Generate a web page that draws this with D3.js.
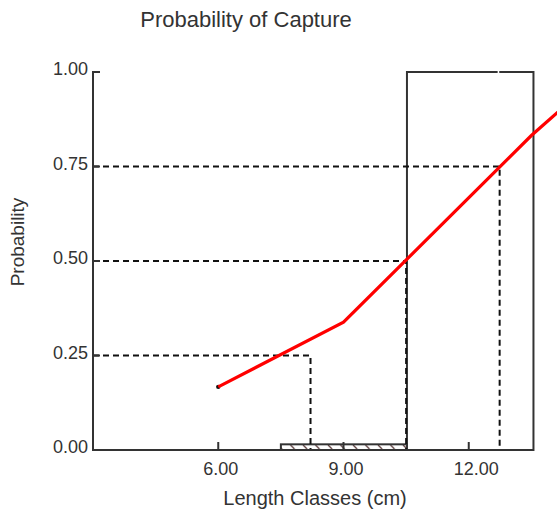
<!DOCTYPE html>
<html>
<head>
<meta charset="utf-8">
<script src="https://cdn.jsdelivr.net/npm/d3@7/dist/d3.min.js"></script>
<style>
  html, body { margin: 0; padding: 0; background: #fff; }
  svg { display: block; }
  text { font-family: "Liberation Sans", Arial, sans-serif; fill: #333; }
</style>
</head>
<body>
<script>
// Selection curve: length class (cm) vs probability of capture
const curveLengths = [6, 9, 13.5, 15];
const curveProbs = [0.167, 0.338, 0.832, 0.978];

// Length-frequency bars: class start, class end, relative height
const barStarts = [7.5, 10.52];
const barEnds = [10.52, 13.55];
const barHeights = [0.015, 1.0];
const barHatched = [true, false];

// Reference probabilities and the lengths where their guide lines drop
const refProbs = [0.25, 0.5, 0.75];
const refLengths = [8.21, 10.5, 12.74];

// Axis ticks
const xTicks = [6, 9, 12];
const xTickLabels = ["6.00", "9.00", "12.00"];
const yTicks = [0, 0.25, 0.5, 0.75, 1.0];
const yTickLabels = ["0.00", "0.25", "0.50", "0.75", "1.00"];

const W = 557, H = 515;
const svg = d3.select("body").append("svg").attr("width", W).attr("height", H);

const x = d3.scaleLinear().domain([3, 13.4]).range([93, 527.2]);
const y = d3.scaleLinear().domain([0, 1]).range([450, 72]);

// hatch pattern for the small bar
const defs = svg.append("defs");
const pat = defs.append("pattern")
  .attr("id", "hatch").attr("patternUnits", "userSpaceOnUse")
  .attr("width", 12.5).attr("height", 6);
pat.append("line").attr("x1", 3).attr("y1", 1).attr("x2", 7).attr("y2", 5)
  .attr("stroke", "#5a3a3a").attr("stroke-width", 1.2);

const ink = "#333";

// Bars
const bars = barStarts.map((s, i) => ({ s, e: barEnds[i], h: barHeights[i], hatched: barHatched[i] }));
svg.append("g").selectAll("rect").data(bars).join("rect")
  .attr("x", d => x(d.s))
  .attr("y", d => y(d.h))
  .attr("width", d => x(d.e) - x(d.s))
  .attr("height", d => y(0) - y(d.h))
  .attr("fill", d => d.hatched ? "url(#hatch)" : "none")
  .attr("stroke", ink).attr("stroke-width", 2);

// small break in the top edge of the full-height bar at the L75 length
svg.append("rect")
  .attr("x", x(refLengths[2]) - 2).attr("y", y(1) - 2)
  .attr("width", 1.6).attr("height", 4).attr("fill", "#fff");

// Reference guide lines (dashed)
const guides = svg.append("g").attr("fill", "none")
  .attr("stroke", "#111").attr("stroke-width", 2).attr("stroke-dasharray", "6,4");
refProbs.forEach((p, i) => {
  guides.append("path")
    .attr("d", d3.line()([[x(3), y(p)], [x(refLengths[i]), y(p)], [x(refLengths[i]), y(0)]]));
});

// Axes
const axes = svg.append("g").attr("fill", "none").attr("stroke", ink).attr("stroke-width", 2);
axes.append("line").attr("x1", x(3)).attr("x2", x(3)).attr("y1", y(0)).attr("y2", y(1) - 1);
axes.append("line").attr("x1", x(3) - 1).attr("x2", x(13.4)).attr("y1", y(0)).attr("y2", y(0));
// inward ticks
axes.selectAll(".yt").data(yTicks.filter(v => v > 0)).join("line")
  .attr("x1", x(3)).attr("x2", x(3) + 7).attr("y1", d => y(d)).attr("y2", d => y(d));
axes.selectAll(".xt").data(xTicks).join("line")
  .attr("x1", d => x(d)).attr("x2", d => x(d)).attr("y1", y(0)).attr("y2", y(0) - 8);

// Tick labels
svg.append("g").selectAll("text").data(yTicks).join("text")
  .attr("x", 88).attr("y", d => y(d) + 3)
  .attr("text-anchor", "end").attr("font-size", 18)
  .text((d, i) => yTickLabels[i]);
svg.append("g").selectAll("text").data(xTicks).join("text")
  .attr("x", d => x(d) - 15).attr("y", 475)
  .attr("text-anchor", "start").attr("font-size", 18)
  .text((d, i) => xTickLabels[i]);

// Selection curve with a marker at its first point
const pts = curveLengths.map((l, i) => [x(l), y(curveProbs[i])]);
svg.append("circle")
  .attr("cx", pts[0][0]).attr("cy", pts[0][1]).attr("r", 2.2).attr("fill", "#111");
svg.append("path")
  .attr("d", d3.line()(pts))
  .attr("fill", "none").attr("stroke", "#ff0000").attr("stroke-width", 3.2);

// Titles
svg.append("text").attr("x", 246).attr("y", 27).attr("text-anchor", "middle")
  .attr("font-size", 22).text("Probability of Capture");
svg.append("text").attr("x", 315).attr("y", 505).attr("text-anchor", "middle")
  .attr("font-size", 20).text("Length Classes (cm)");
svg.append("text").attr("transform", "translate(24,242) rotate(-90)")
  .attr("text-anchor", "middle").attr("font-size", 19).text("Probability");
</script>
</body>
</html>
